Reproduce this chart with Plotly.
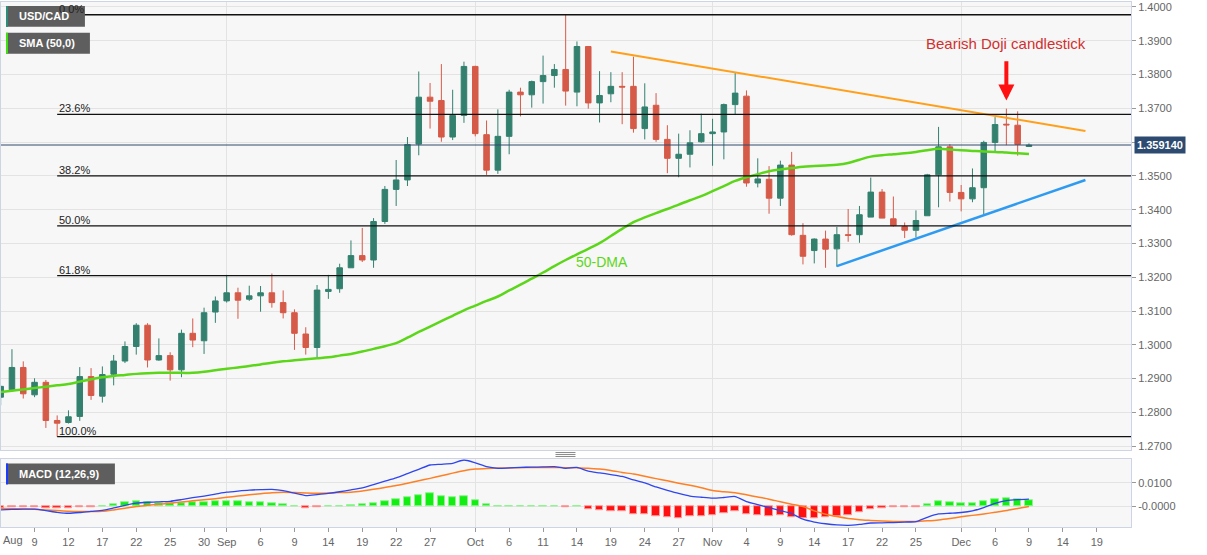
import pandas as pd
import plotly.graph_objects as go

# ---------------- data ----------------
dates = pd.bdate_range("2022-08-04", "2022-12-09").strftime("%Y-%m-%d").tolist()

open_ = [1.2845, 1.2867, 1.2933, 1.2852, 1.2889, 1.2776, 1.2770, 1.2788, 1.2906, 1.2848,
         1.2913, 1.2952, 1.2995, 1.3058, 1.2955, 1.2968, 1.2926, 1.3034, 1.3012, 1.3097,
         1.3130, 1.3154, 1.3135, 1.3145, 1.3154, 1.3125, 1.3095, 1.3032, 1.2992, 1.3158,
         1.3166, 1.3228, 1.3264, 1.3251, 1.3365, 1.3460, 1.3488, 1.3594, 1.3733, 1.3723,
         1.3615, 1.3679, 1.3824, 1.3622, 1.3517, 1.3617, 1.3748, 1.3740, 1.3779, 1.3797,
         1.3815, 1.3748, 1.3883, 1.3716, 1.3743, 1.3765, 1.3765, 1.3640, 1.3709, 1.3608,
         1.3552, 1.3564, 1.3601, 1.3625, 1.3630, 1.3711, 1.3736, 1.3479, 1.3490, 1.3434,
         1.3532, 1.3324, 1.3279, 1.3313, 1.3284, 1.3326, 1.3326, 1.3378, 1.3452, 1.3373,
         1.3350, 1.3339, 1.3382, 1.3503, 1.3586, 1.3451, 1.3432, 1.3465, 1.3599, 1.3653,
         1.3650, 1.3587]
high = [1.2880, 1.2987, 1.2951, 1.2901, 1.2896, 1.2791, 1.2806, 1.2934, 1.2931, 1.2936,
        1.2970, 1.3010, 1.3064, 1.3064, 1.3019, 1.2978, 1.3045, 1.3078, 1.3110, 1.3143,
        1.3207, 1.3169, 1.3175, 1.3174, 1.3211, 1.3161, 1.3105, 1.3052, 1.3177, 1.3207,
        1.3240, 1.3309, 1.3346, 1.3375, 1.3470, 1.3547, 1.3615, 1.3809, 1.3775, 1.3831,
        1.3755, 1.3838, 1.3826, 1.3664, 1.3697, 1.3755, 1.3761, 1.3782, 1.3856, 1.3831,
        1.3977, 1.3898, 1.3883, 1.3810, 1.3807, 1.3807, 1.3853, 1.3774, 1.3745, 1.3650,
        1.3625, 1.3635, 1.3684, 1.3669, 1.3714, 1.3807, 1.3753, 1.3552, 1.3529, 1.3545,
        1.3571, 1.3360, 1.3315, 1.3338, 1.3349, 1.3402, 1.3411, 1.3495, 1.3461, 1.3439,
        1.3362, 1.3398, 1.3506, 1.3645, 1.3594, 1.3473, 1.3522, 1.3604, 1.3674, 1.3699,
        1.3691, 1.3596]
low = [1.2821, 1.2864, 1.2841, 1.2845, 1.2754, 1.2728, 1.2767, 1.2775, 1.2837, 1.2829,
       1.2880, 1.2946, 1.2971, 1.2933, 1.2953, 1.2894, 1.2904, 1.2993, 1.2973, 1.3065,
       1.3125, 1.3077, 1.3130, 1.3098, 1.3110, 1.3078, 1.2985, 1.2971, 1.2961, 1.3136,
       1.3154, 1.3228, 1.3245, 1.3228, 1.3358, 1.3411, 1.3470, 1.3561, 1.3640, 1.3601,
       1.3606, 1.3657, 1.3617, 1.3503, 1.3506, 1.3564, 1.3676, 1.3702, 1.3714, 1.3761,
       1.3708, 1.3706, 1.3699, 1.3658, 1.3718, 1.3653, 1.3628, 1.3608, 1.3601, 1.3508,
       1.3496, 1.3525, 1.3598, 1.3530, 1.3549, 1.3682, 1.3468, 1.3466, 1.3388, 1.3411,
       1.3323, 1.3238, 1.3241, 1.3228, 1.3231, 1.3305, 1.3302, 1.3378, 1.3375, 1.3350,
       1.3316, 1.3318, 1.3382, 1.3407, 1.3424, 1.3395, 1.3422, 1.3387, 1.3571, 1.3591,
       1.3560, 1.3586]
close = [1.2877, 1.2933, 1.2855, 1.2889, 1.2776, 1.2768, 1.2787, 1.2906, 1.2850, 1.2912,
         1.2952, 1.2995, 1.3058, 1.2955, 1.2968, 1.2926, 1.3034, 1.3014, 1.3095, 1.3130,
         1.3154, 1.3132, 1.3145, 1.3154, 1.3125, 1.3095, 1.3034, 1.2992, 1.3162, 1.3164,
         1.3228, 1.3264, 1.3251, 1.3365, 1.3460, 1.3488, 1.3593, 1.3733, 1.3721, 1.3615,
         1.3679, 1.3824, 1.3625, 1.3517, 1.3617, 1.3748, 1.3740, 1.3779, 1.3797, 1.3815,
         1.3751, 1.3883, 1.3716, 1.3738, 1.3765, 1.3763, 1.3640, 1.3704, 1.3608, 1.3552,
         1.3564, 1.3598, 1.3625, 1.3630, 1.3711, 1.3745, 1.3479, 1.3491, 1.3434, 1.3532,
         1.3326, 1.3262, 1.3313, 1.3283, 1.3326, 1.3324, 1.3385, 1.3452, 1.3375, 1.3353,
         1.3339, 1.3368, 1.3503, 1.3586, 1.3451, 1.3432, 1.3465, 1.3599, 1.3652, 1.3651,
         1.3593, 1.3591]

sma50 = [1.2860, 1.2864, 1.2868, 1.2872, 1.2876, 1.2880, 1.2884, 1.2891, 1.2898, 1.2904,
         1.2908, 1.2911, 1.2914, 1.2916, 1.2917, 1.2917, 1.2917, 1.2917, 1.2920, 1.2925,
         1.2929, 1.2933, 1.2937, 1.2942, 1.2947, 1.2951, 1.2954, 1.2957, 1.2960, 1.2963,
         1.2968, 1.2973, 1.2980, 1.2988, 1.2996, 1.3005, 1.3021, 1.3038, 1.3054, 1.3070,
         1.3086, 1.3102, 1.3116, 1.3130, 1.3143, 1.3161, 1.3178, 1.3196, 1.3214, 1.3233,
         1.3251, 1.3268, 1.3284, 1.3301, 1.3322, 1.3343, 1.3363, 1.3377, 1.3390, 1.3402,
         1.3415, 1.3428, 1.3440, 1.3455, 1.3470, 1.3485, 1.3496, 1.3505, 1.3514, 1.3519,
         1.3523, 1.3527, 1.3529, 1.3531, 1.3533, 1.3538, 1.3548, 1.3557, 1.3561, 1.3564,
         1.3567, 1.3571, 1.3576, 1.3580, 1.3578, 1.3576, 1.3574, 1.3572, 1.3571, 1.3569,
         1.3567, 1.3565]

macd_line = [-0.0014, -0.0012, -0.0011, -0.0011, -0.0017, -0.0024, -0.0028, -0.0025, -0.0020, -0.0016,
             -0.0006, 0.0005, 0.0014, 0.0018, 0.0020, 0.0022, 0.0029, 0.0037, 0.0044, 0.0052,
             0.0060, 0.0065, 0.0069, 0.0071, 0.0072, 0.0067, 0.0056, 0.0046, 0.0050, 0.0055,
             0.0062, 0.0070, 0.0078, 0.0092, 0.0106, 0.0120, 0.0138, 0.0156, 0.0174, 0.0177,
             0.0181, 0.0195, 0.0183, 0.0167, 0.0160, 0.0162, 0.0164, 0.0165, 0.0166, 0.0167,
             0.0160, 0.0164, 0.0148, 0.0141, 0.0134, 0.0126, 0.0112, 0.0099, 0.0082, 0.0068,
             0.0055, 0.0044, 0.0039, 0.0035, 0.0038, 0.0042, 0.0021, 0.0008, -0.0005, -0.0017,
             -0.0030, -0.0053, -0.0065, -0.0072, -0.0077, -0.0079, -0.0075, -0.0069, -0.0068, -0.0067,
             -0.0065, -0.0063, -0.0045, -0.0031, -0.0028, -0.0025, -0.0018, -0.0004, 0.0013, 0.0025,
             0.0029, 0.0031]
macd_signal = [-0.0007, -0.0009, -0.0010, -0.0011, -0.0014, -0.0017, -0.0020, -0.0021, -0.0021, -0.0020,
               -0.0014, -0.0007, 0.0000, 0.0005, 0.0010, 0.0014, 0.0019, 0.0024, 0.0028, 0.0033,
               0.0039, 0.0044, 0.0049, 0.0054, 0.0058, 0.0060, 0.0059, 0.0057, 0.0056, 0.0057,
               0.0059, 0.0060, 0.0065, 0.0072, 0.0080, 0.0088, 0.0098, 0.0108, 0.0118, 0.0129,
               0.0140, 0.0150, 0.0157, 0.0159, 0.0161, 0.0162, 0.0163, 0.0164, 0.0164, 0.0164,
               0.0163, 0.0163, 0.0160, 0.0157, 0.0151, 0.0143, 0.0136, 0.0127, 0.0117, 0.0108,
               0.0098, 0.0089, 0.0079, 0.0067, 0.0062, 0.0058, 0.0049, 0.0040, 0.0031, 0.0020,
               0.0010, 0.0000, -0.0018, -0.0032, -0.0042, -0.0050, -0.0055, -0.0058, -0.0061, -0.0063,
               -0.0063, -0.0063, -0.0060, -0.0056, -0.0050, -0.0043, -0.0037, -0.0031, -0.0024, -0.0017,
               -0.0008, 0.0000]
macd_hist = [-0.0007, -0.0003, -0.0003, -0.0002, -0.0007, -0.0008, -0.0007, -0.0002, -0.0002, 0.0003,
             0.0010, 0.0017, 0.0022, 0.0019, 0.0016, 0.0012, 0.0015, 0.0017, 0.0020, 0.0024,
             0.0024, 0.0022, 0.0020, 0.0017, 0.0013, 0.0008, 0.0001, -0.0006, -0.0003, 0.0000,
             0.0002, 0.0007, 0.0010, 0.0016, 0.0024, 0.0031, 0.0038, 0.0048, 0.0054, 0.0045,
             0.0040, 0.0042, 0.0027, 0.0008, 0.0002, 0.0002, 0.0001, 0.0001, 0.0001, 0.0001,
             -0.0002, 0.0000, -0.0010, -0.0017, -0.0019, -0.0021, -0.0031, -0.0032, -0.0039, -0.0046,
             -0.0049, -0.0039, -0.0039, -0.0036, -0.0028, -0.0018, -0.0031, -0.0035, -0.0039, -0.0035,
             -0.0044, -0.0049, -0.0049, -0.0046, -0.0039, -0.0035, -0.0025, -0.0011, -0.0007, -0.0004,
             -0.0003, -0.0001, 0.0008, 0.0021, 0.0018, 0.0015, 0.0015, 0.0024, 0.0032, 0.0035,
             0.0031, 0.0026]

fib_levels = [1.3977, 1.3682, 1.3500, 1.3352, 1.3205, 1.2728]
fib_labels = ["0.0%", "23.6%", "38.2%", "50.0%", "61.8%", "100.0%"]
fib_start = "2022-08-11"

resistance_dates = ["2022-10-19", "2022-12-16"]
resistance_vals = [1.3868, 1.3633]
support_dates = ["2022-11-16", "2022-12-16"]
support_vals = [1.3233, 1.3488]

last_price = 1.359140
doji_date = "2022-12-07"
arrow_tip, arrow_tail = 1.3723, 1.3844
doji_text_y = 1.3891
dma_label_date, dma_label_y = "2022-10-18", 1.3245

price_ticks = [1.27, 1.28, 1.29, 1.30, 1.31, 1.32, 1.33, 1.34, 1.35, 1.36, 1.37, 1.38, 1.39, 1.40]

tick_dates = ["2022-08-09", "2022-08-12", "2022-08-17", "2022-08-22", "2022-08-25", "2022-08-30",
              "2022-09-01", "2022-09-06", "2022-09-09", "2022-09-14", "2022-09-19", "2022-09-22",
              "2022-09-27", "2022-10-03", "2022-10-06", "2022-10-11", "2022-10-14", "2022-10-19",
              "2022-10-24", "2022-10-27", "2022-11-01", "2022-11-04", "2022-11-09", "2022-11-14",
              "2022-11-17", "2022-11-22", "2022-11-25", "2022-12-01", "2022-12-06", "2022-12-09",
              "2022-12-14", "2022-12-19"]
tick_text = ["9", "12", "17", "22", "25", "30", "Sep", "6", "9", "14", "19", "22", "27", "Oct",
             "6", "11", "14", "19", "24", "27", "Nov", "4", "9", "14", "17", "22", "25", "Dec",
             "6", "9", "14", "19"]
month_dates = ["2022-09-01", "2022-10-03", "2022-11-01", "2022-12-01"]

# ---------------- helpers ----------------
calendar = pd.bdate_range("2022-08-04", "2022-12-30").strftime("%Y-%m-%d").tolist()


def P(d):
    return calendar.index(d)


xs = [P(d) for d in dates]
X_RANGE = [0.03, 100.03]
W, H, R = 1207, 555, 76
PW = W - R


def px(x):
    return x / PW


def py(y):
    return 1 - y / H


FONT = "Arial, Liberation Sans, sans-serif"
GRID = "#e3e3e3"
BORDER = "#cdd5e4"
INC, DEC = "#33806f", "#d65a48"
SMA_C = "#5cd619"

fig = go.Figure()

fig.add_trace(go.Candlestick(
    x=xs, open=open_, high=high, low=low, close=close,
    increasing=dict(line=dict(color=INC, width=1), fillcolor=INC),
    decreasing=dict(line=dict(color=DEC, width=1), fillcolor=DEC),
    whiskerwidth=0, showlegend=False, xaxis="x", yaxis="y"))

fig.add_trace(go.Scatter(x=xs, y=sma50, mode="lines", line=dict(color=SMA_C, width=2.5, shape="spline"),
                         showlegend=False, xaxis="x", yaxis="y", hoverinfo="skip"))

fig.add_trace(go.Scatter(x=[P(d) for d in resistance_dates], y=resistance_vals, mode="lines",
                         line=dict(color="#ff9f1a", width=2), showlegend=False, xaxis="x", yaxis="y"))
fig.add_trace(go.Scatter(x=[P(d) for d in support_dates], y=support_vals, mode="lines",
                         line=dict(color="#2f9bf0", width=2.5), showlegend=False, xaxis="x", yaxis="y"))

# MACD panel
fig.add_trace(go.Bar(x=xs, y=macd_hist, width=0.66,
                     marker=dict(color=["#12ee12" if v >= 0 else "#ff1010" for v in macd_hist],
                                 line=dict(color=["#8cf58c" if v >= 0 else "#ff9a9a" for v in macd_hist], width=1)),
                     showlegend=False, xaxis="x2", yaxis="y2"))
fig.add_trace(go.Scatter(x=xs, y=macd_signal, mode="lines", line=dict(color="#ff7f24", width=1.5, shape="spline", smoothing=0.6),
                         showlegend=False, xaxis="x2", yaxis="y2"))
fig.add_trace(go.Scatter(x=xs, y=macd_line, mode="lines", line=dict(color="#2f45ee", width=1.3, shape="spline", smoothing=0.6),
                         showlegend=False, xaxis="x2", yaxis="y2"))

shapes = []
# fibonacci levels
for lv in fib_levels:
    shapes.append(dict(type="line", xref="x", yref="y", x0=P(fib_start), x1=X_RANGE[1], y0=lv, y1=lv,
                       line=dict(color="#111111", width=1.3), layer="above"))
# last price line
shapes.append(dict(type="line", xref="paper", yref="y", x0=0, x1=1, y0=last_price, y1=last_price,
                   line=dict(color="#2e4a6e", width=1), layer="above"))
# legend boxes
for (x0, y0, x1, y1, stripe) in [(5, 5, 84, 26, "#2e8b7a"), (5, 32, 89, 53, "#3fe010"), (5, 465, 114, 486, "#1a3cff")]:
    shapes.append(dict(type="rect", xref="paper", yref="paper", x0=px(x0), x1=px(x1), y0=py(y1), y1=py(y0),
                       fillcolor="#5e5e5e", line=dict(width=0), layer="above"))
    shapes.append(dict(type="rect", xref="paper", yref="paper", x0=px(x0), x1=px(x0 + 2), y0=py(y1), y1=py(y0),
                       fillcolor=stripe, line=dict(width=0), layer="above"))
# drag handle between panels
for yy in (454, 456, 458):
    shapes.append(dict(type="line", xref="paper", yref="paper", x0=px(555), x1=px(575), y0=py(yy), y1=py(yy),
                       line=dict(color="#8a8a8a", width=1)))

ann = []
for lv, lab in zip(fib_levels, fib_labels):
    ann.append(dict(x=P(fib_start), y=lv, xref="x", yref="y", text=lab, showarrow=False,
                    xanchor="left", yanchor="bottom", xshift=0, yshift=-2,
                    font=dict(family=FONT, size=11, color="#222222")))
for txt, x0, yc in [("USD/CAD", 16, 15.5), ("SMA (50,0)", 16, 42.5), ("MACD (12,26,9)", 16, 475.5)]:
    ann.append(dict(x=px(x0), y=py(yc), xref="paper", yref="paper", text="<b>" + txt + "</b>", showarrow=False,
                    xanchor="left", yanchor="middle", font=dict(family=FONT, size=11, color="white")))
ann.append(dict(x=px(1134), y=last_price, xref="paper", yref="y", text="<b>1.359140</b>", showarrow=False,
                xanchor="left", yanchor="middle", bgcolor="#2d4a70", borderpad=2,
                font=dict(family=FONT, size=11, color="white")))
ann.append(dict(x=P(doji_date), y=doji_text_y, xref="x", yref="y", text="Bearish Doji candlestick",
                showarrow=False, xanchor="center", yanchor="middle",
                font=dict(family=FONT, size=15, color="#d0302e")))
ann.append(dict(x=P(doji_date), y=arrow_tip, xref="x", yref="y", ax=P(doji_date), ay=arrow_tail,
                axref="x", ayref="y", text="", showarrow=True, arrowhead=2, arrowsize=0.8,
                arrowwidth=4, arrowcolor="#ff1111"))
ann.append(dict(x=P(dma_label_date) + 0.25, y=dma_label_y, xref="x", yref="y", text="50-DMA", showarrow=False,
                xanchor="center", yanchor="middle", font=dict(family=FONT, size=14, color=SMA_C)))
ann.append(dict(x=0, y=py(541.7), xref="paper", yref="paper", text="Aug", showarrow=False,
                xanchor="left", yanchor="middle", font=dict(family=FONT, size=11, color="#666666")))

fig.update_layout(
    width=W, height=H, margin=dict(l=0, r=R, t=0, b=0),
    paper_bgcolor="white", plot_bgcolor="#f7f7f7",
    font=dict(family=FONT, size=11, color="#666666"),
    showlegend=False, bargap=0, hovermode=False,
    shapes=shapes, annotations=ann,
    xaxis=dict(domain=[0, 1], range=X_RANGE, anchor="y", rangeslider=dict(visible=False),
               tickvals=[P(d) for d in month_dates], showticklabels=False, ticks="",
               showgrid=True, gridcolor=GRID, zeroline=False,
               showline=True, mirror=True, linecolor=BORDER),
    yaxis=dict(domain=[py(451.7), py(1)], range=[1.26879, 1.40147], anchor="x", side="right",
               tickvals=price_ticks, ticktext=["%.4f" % v for v in price_ticks],
               ticks="outside", ticklen=4, tickcolor="#999999", ticklabeloverflow="allow",
               tickfont=dict(size=11, color="#666666"), showgrid=True, gridcolor=GRID, zeroline=False,
               showline=True, mirror=True, linecolor=BORDER),
    xaxis2=dict(domain=[0, 1], range=X_RANGE, anchor="y2",
                tickvals=[P(d) for d in tick_dates], ticktext=tick_text, ticks="outside", ticklen=4,
                tickcolor="#999999", tickfont=dict(size=11, color="#666666"), showgrid=False,
                minor=dict(tickvals=[P(d) for d in month_dates], showgrid=True, gridcolor=GRID, ticks=""),
                zeroline=False, showline=True, mirror=True, linecolor=BORDER),
    yaxis2=dict(domain=[py(529.3), py(460.7)], range=[-0.00875, 0.01983], anchor="x2", side="right",
                tickvals=[0.01, 0.0], ticktext=["0.0100", "-0.0000"], ticks="outside", ticklen=4,
                tickcolor="#999999", tickfont=dict(size=11, color="#666666"), showgrid=True, gridcolor=GRID,
                zeroline=False, showline=True, mirror=True, linecolor=BORDER),
)

fig.write_html("out.html", config={"displayModeBar": False},
               post_script="document.body.style.margin='0px';document.body.style.overflow='hidden';")
